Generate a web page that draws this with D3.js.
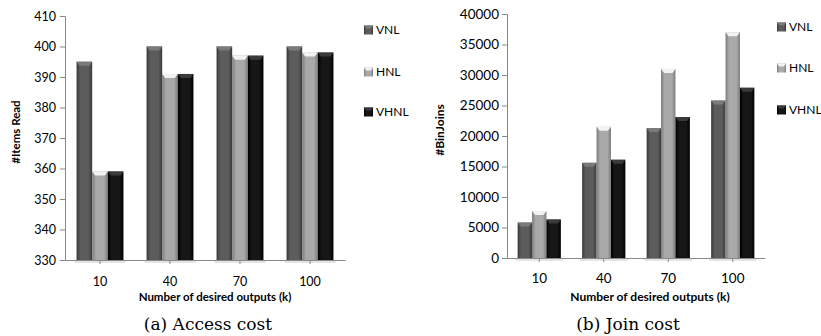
<!DOCTYPE html>
<html><head><meta charset="utf-8">
<script src="https://cdn.jsdelivr.net/npm/d3@7"></script>
<style>
body{margin:0;background:#fff;}
svg{display:block;}
text{font-family:Lato,"Open Sans",sans-serif;fill:#000;}
.cap{font-family:"DejaVu Serif","Liberation Serif",serif;}
</style></head>
<body>
<svg id="c" width="821" height="336"></svg>
<script>
const categories = ["10","40","70","100"];
const seriesNames = ["VNL","HNL","VHNL"];
const accessVNL = [395,400,400,400];
const accessHNL = [359,391,397,398];
const accessVHNL = [359,391,397,398];
const joinVNL = [5800,15600,21300,25800];
const joinHNL = [7700,21500,31000,37000];
const joinVHNL = [6300,16100,23100,27900];
const accessTicks = [330,340,350,360,370,380,390,400,410];
const joinTicks = [0,5000,10000,15000,20000,25000,30000,35000,40000];

const svg = d3.select("#c");
const defs = svg.append("defs");
const palette = {
  VNL: {edge:"#3a3a3a", mid:"#5c5c5c", cap:"#7a7a7a"},
  HNL: {edge:"#7c7c7c", mid:"#a9a9a9", cap:"#f2f2f2"},
  VHNL:{edge:"#000000", mid:"#161616", cap:"#3a3a3a"}
};
seriesNames.forEach(s=>{
  const g = defs.append("linearGradient").attr("id","g"+s).attr("x1","0").attr("x2","1").attr("y1","0").attr("y2","0");
  g.append("stop").attr("offset","0").attr("stop-color",palette[s].edge);
  g.append("stop").attr("offset","0.25").attr("stop-color",palette[s].mid);
  g.append("stop").attr("offset","0.75").attr("stop-color",palette[s].mid);
  g.append("stop").attr("offset","1").attr("stop-color",palette[s].edge);
});

function drawChart(o){
  const root = svg.append("g");
  const x0 = d3.scaleBand().domain(categories).range([o.x0,o.x1]).paddingInner(0.33).paddingOuter(0.165);
  const x1 = d3.scaleBand().domain(seriesNames).range([0,x0.bandwidth()]);
  const y = d3.scaleLinear().domain(o.domain).range([o.y1,o.y0]);
  const data = categories.map((c,i)=>({cat:c, vals:seriesNames.map((s,j)=>({s, v:o.series[j][i]}))}));

  const groups = root.selectAll("g.grp").data(data).join("g").attr("class","grp")
    .attr("transform",d=>`translate(${x0(d.cat)},0)`);
  groups.append("rect").attr("x",-2).attr("y",o.y1).attr("width",x0.bandwidth()+4).attr("height",3).attr("fill","#e4e4e4");
  const bars = groups.selectAll("g.bar").data(d=>d.vals).join("g").attr("class","bar");
  bars.append("rect")
    .attr("x",d=>x1(d.s)).attr("y",d=>y(d.v))
    .attr("width",x1.bandwidth()).attr("height",d=>o.y1-y(d.v))
    .attr("fill",d=>`url(#g${d.s})`);
  bars.append("path")
    .attr("d",d=>{const a=x1(d.s), w=x1.bandwidth(), t=y(d.v); return `M${a},${t}L${a+w},${t}L${a+w-3},${t+4}L${a+3},${t+4}Z`;})
    .attr("fill",d=>palette[d.s].cap);

  const ya = root.append("g").attr("transform",`translate(${o.x0},0)`)
    .call(d3.axisLeft(y).tickValues(o.ticks).tickSize(5).tickPadding(o.tickPad).tickFormat(d3.format("d")));
  ya.select(".domain").attr("stroke","#888");
  ya.selectAll(".tick line").attr("stroke","#888");
  ya.selectAll("text").style("font-size",o.fs+"px").attr("fill","#000");
  const xa = root.append("g").attr("transform",`translate(0,${o.y1})`)
    .call(d3.axisBottom(x0).tickSize(4).tickPadding(o.xPad).tickSizeOuter(0));
  xa.select(".domain").attr("stroke","#888");
  xa.selectAll(".tick line").attr("stroke","#888");
  xa.selectAll("text").style("font-size",o.fs+"px").attr("fill","#000");

  root.append("text").attr("x",o.xtitleX).attr("y",o.xtitleY).attr("text-anchor","middle")
    .style("font-size",o.tfs+"px").style("font-weight","bold").text("Number of desired outputs (k)");
  root.append("text").attr("transform",`translate(${o.ytitleX},${o.ytitleY}) rotate(-90)`).attr("text-anchor","middle")
    .style("font-size",o.tfs+"px").style("font-weight","bold").text(o.ytitle);

  const lg = root.selectAll("g.lg").data(seriesNames).join("g").attr("class","lg")
    .attr("transform",(d,i)=>`translate(${o.legX},${o.legY[i]})`);
  lg.append("rect").attr("x",0).attr("y",-4.5).attr("width",9).attr("height",9).attr("fill",d=>`url(#g${d})`);
  lg.append("path").attr("d","M0,-4.5L9,-4.5L7,-1.5L2,-1.5Z").attr("fill",d=>palette[d].cap);
  lg.append("text").attr("x",12).attr("y",0).attr("dy","0.35em").style("font-size",o.lfs+"px").text(d=>d);

  root.append("text").attr("class","cap").attr("x",o.capX).attr("y",330).attr("text-anchor","middle")
    .style("font-size","17px").text(o.caption);
}

drawChart({x0:65,x1:345,y0:16,y1:260,domain:[330,410],ticks:accessTicks,
  series:[accessVNL,accessHNL,accessVHNL],fs:12.5,tfs:11.5,lfs:12,tickPad:4,xPad:13,
  xtitleX:215,xtitleY:301,ytitle:"#Items Read",ytitleX:20,ytitleY:132,
  legX:364,legY:[30,72,112],capX:208,caption:"(a) Access cost"});
drawChart({x0:507,x1:765,y0:14,y1:258,domain:[0,40000],ticks:joinTicks,
  series:[joinVNL,joinHNL,joinVHNL],fs:13.5,tfs:12,lfs:12,tickPad:3,xPad:11,
  xtitleX:650,xtitleY:301,ytitle:"#BinJoins",ytitleX:444,ytitleY:130,
  legX:777,legY:[27,68,110],capX:628,caption:"(b) Join cost"});
</script>
</body></html>
